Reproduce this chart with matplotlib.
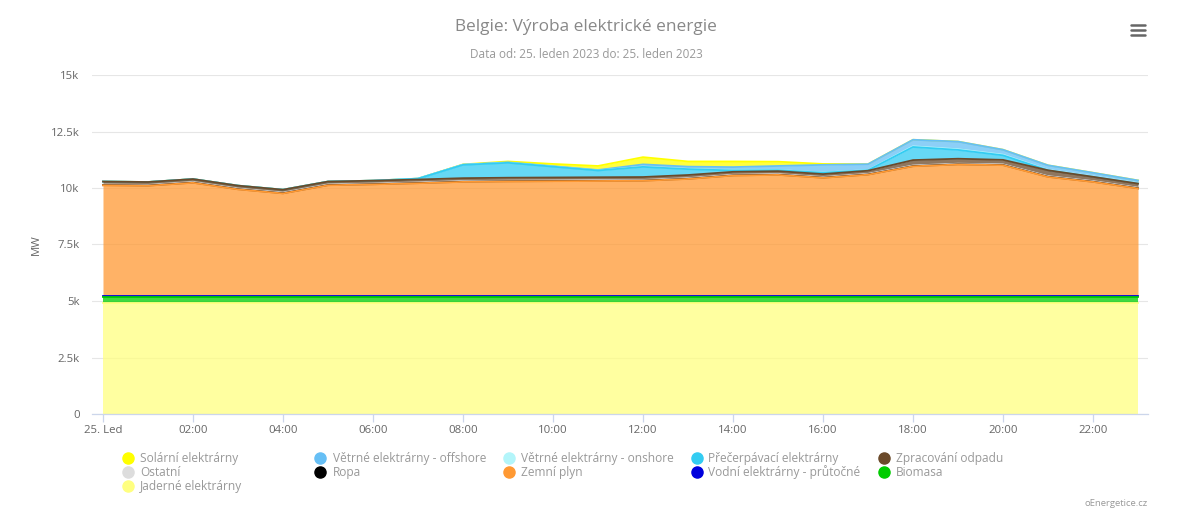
import matplotlib
matplotlib.use("Agg")
import matplotlib.pyplot as plt
from matplotlib.lines import Line2D
import numpy as np

# ---------------- data ----------------
hours = list(range(24))
tick_hours = [0, 2, 4, 6, 8, 10, 12, 14, 16, 18, 20, 22]
tick_labels = ["25. Led", "02:00", "04:00", "06:00", "08:00", "10:00",
               "12:00", "14:00", "16:00", "18:00", "20:00", "22:00"]

solar = [0, 0, 0, 0, 0, 0, 0, 0, 10, 40, 100, 180, 320, 230, 250, 190, 40, 0, 0, 0, 0, 0, 0, 0]
wind_offshore = [0, 0, 0, 0, 0, 0, 0, 0, 10, 20, 20, 20, 100, 100, 140, 180, 340, 260, 290, 340, 220, 200, 160, 120]
wind_onshore = [0, 0, 0, 0, 0, 0, 0, 0, 0, 0, 0, 0, 10, 10, 10, 10, 10, 10, 30, 30, 30, 20, 20, 20]
pumped = [0, 0, 0, 0, 0, 0, 0, 40, 590, 660, 480, 300, 450, 260, 60, 40, 60, 20, 580, 390, 200, 0, 0, 0]
waste = [130, 130, 130, 130, 130, 130, 130, 130, 130, 130, 130, 130, 130, 140, 130, 130, 130, 140, 240, 220, 200, 260, 190, 180]
other = [30, 30, 30, 30, 30, 30, 30, 30, 30, 30, 30, 30, 30, 30, 30, 30, 30, 30, 30, 30, 30, 30, 30, 30]
oil = [5, 5, 5, 5, 5, 5, 5, 5, 5, 5, 5, 5, 5, 5, 5, 5, 5, 5, 5, 5, 5, 5, 5, 5]
gas = [4910, 4890, 5020, 4730, 4550, 4910, 4950, 5000, 5060, 5080, 5090, 5100, 5110, 5190, 5340, 5370, 5240, 5380, 5750, 5830, 5800, 5280, 5060, 4770]
hydro = [20, 20, 20, 20, 20, 20, 20, 20, 20, 20, 20, 20, 20, 20, 20, 20, 20, 20, 20, 20, 20, 20, 20, 20]
biomass = [270, 270, 270, 270, 270, 270, 270, 270, 270, 270, 270, 270, 270, 270, 270, 270, 270, 270, 270, 270, 270, 270, 270, 270]
nuclear = [4920, 4920, 4920, 4920, 4920, 4920, 4920, 4920, 4920, 4920, 4920, 4920, 4920, 4920, 4920, 4920, 4920, 4920, 4920, 4920, 4920, 4920, 4920, 4920]

series_names = ["Solární elektrárny", "Větrné elektrárny - offshore", "Větrné elektrárny - onshore",
                "Přečerpávací elektrárny", "Zpracování odpadu", "Ostatní", "Ropa", "Zemní plyn",
                "Vodní elektrárny - průtočné", "Biomasa", "Jaderné elektrárny"]
series_values = [solar, wind_offshore, wind_onshore, pumped, waste, other, oil, gas, hydro, biomass, nuclear]
series_colors = ["#FFFF00", "#66BFF5", "#B3F5FA", "#33CCF2", "#6B4A2A", "#DDDDDD",
                 "#000000", "#FF9933", "#0000DD", "#00CC00", "#FFFF80"]

y_ticks = [0, 2500, 5000, 7500, 10000, 12500, 15000]
y_ticklabels = ["0", "2.5k", "5k", "7.5k", "10k", "12.5k", "15k"]

# ---------------- figure ----------------
W, H = 1200, 527
plt.rcParams['font.family'] = ['Open Sans', 'DejaVu Sans']
fig = plt.figure(figsize=(W / 100, H / 100), dpi=100)

def fx(px):
    return px / W

def fy(py):
    return 1 - py / H

ax = fig.add_axes([fx(92), fy(414), fx(1148) - fx(92), fy(75) - fy(414)])
ax.set_xlim(-0.244, 23.222)
ax.set_ylim(0, 15000)

x = np.array(hours, dtype=float)
# stack bottom -> top is reverse of series order
n = len(series_values)
bottoms = {}
cum = np.zeros(len(x))
for i in range(n - 1, -1, -1):
    vals = np.array(series_values[i], dtype=float)
    bottoms[i] = (cum.copy(), cum + vals)
    cum = cum + vals

# draw: first series first (lowest z), later series on top, like Highcharts
for i in range(n):
    lo, hi = bottoms[i]
    z = 2 + i * 0.1
    ax.fill_between(x, lo, hi, color=series_colors[i], alpha=0.75, linewidth=0, zorder=z)
    ax.plot(x, hi, color=series_colors[i], lw=1.3, zorder=z + 0.05, solid_joinstyle='round')

# axes styling
for s in ["top", "right", "left"]:
    ax.spines[s].set_visible(False)
ax.spines["bottom"].set_color("#ccd6eb")
ax.spines["bottom"].set_linewidth(0.9)
ax.spines["bottom"].set_zorder(10)

ax.set_yticks(y_ticks)
ax.set_yticklabels(y_ticklabels)
ax.set_xticks(tick_hours)
ax.set_xticklabels(tick_labels)
ax.tick_params(axis="y", length=0, pad=9, labelsize=8.2, labelcolor="#666666")
ax.tick_params(axis="x", length=6, width=0.9, color="#ccd6eb", pad=2,
               labelsize=8.2, labelcolor="#666666")
ax.grid(axis="y", color="#e6e6e6", lw=0.8, zorder=0)
ax.set_axisbelow(True)

fig.text(fx(36), fy(245), "MW", rotation=90, ha="center", va="center",
         fontsize=8.2, color="#666666")

# titles
fig.text(fx(586), fy(27), "Belgie: Výroba elektrické energie", ha="center", va="center",
         fontsize=12.4, color="#888888")
fig.text(fx(586), fy(54), "Data od: 25. leden 2023 do: 25. leden 2023", ha="center",
         va="center", fontsize=8.5, color="#999999")

# hamburger menu icon
for yy in (25, 30, 35):
    fig.add_artist(Line2D([fx(1131), fx(1145)], [fy(yy), fy(yy)], color="#666666",
                          lw=1.8, solid_capstyle="round"))

# legend (manual, Highcharts-like layout)
col_marker_x = [128, 320, 509, 697, 884]
col_text_x = [140, 333, 521, 708, 896]
row_y = [458, 472, 486]
for k in range(n):
    r, c = divmod(k, 5)
    fig.add_artist(Line2D([fx(col_marker_x[c])], [fy(row_y[r])], marker="o",
                          markersize=8, color=series_colors[k], linestyle="none"))
    fig.text(fx(col_text_x[c]), fy(row_y[r] + 0.5), series_names[k], ha="left", va="center",
             fontsize=8.6, color="#999999")

fig.text(fx(1148), fy(503), "oEnergetice.cz", ha="right", va="center",
         fontsize=6.8, color="#999999")

fig.savefig("out.png", dpi=100)
